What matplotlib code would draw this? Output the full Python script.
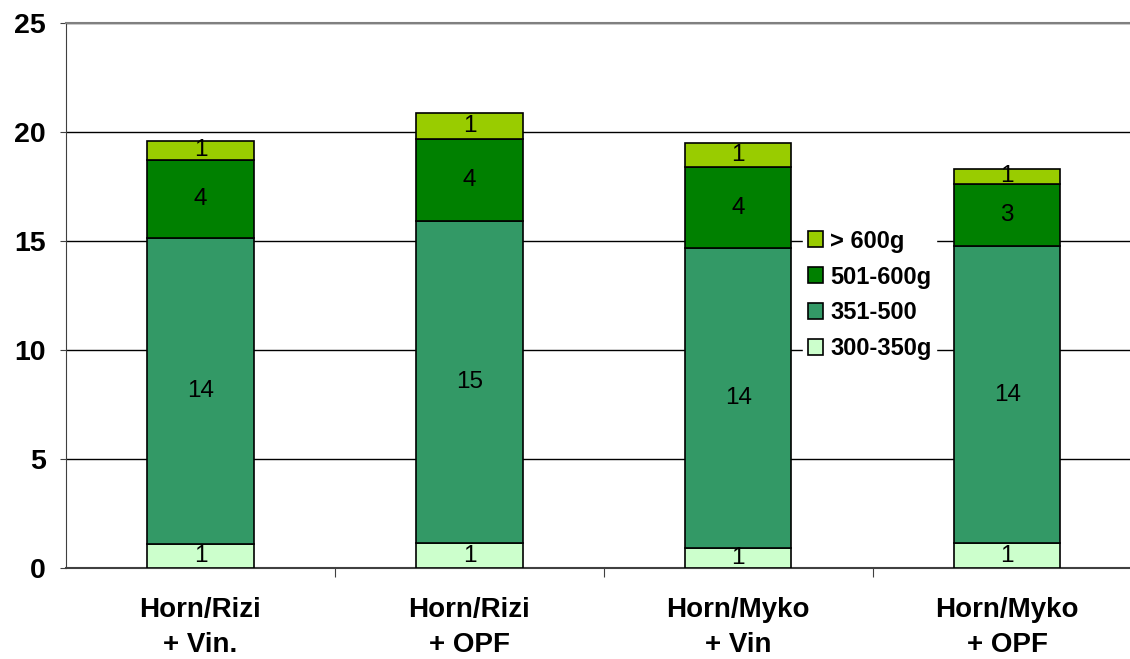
import matplotlib
matplotlib.use("Agg")
import matplotlib.pyplot as plt
import numpy as np

plt.rcParams['font.family'] = ['Liberation Sans', 'DejaVu Sans']

categories = ['Horn/Rizi\n+ Vin.', 'Horn/Rizi\n+ OPF', 'Horn/Myko\n+ Vin', 'Horn/Myko\n+ OPF']
series_names = ['300-350g', '351-500', '501-600g', '> 600g']
s_300_350 = [1.10, 1.17, 0.94, 1.15]
s_351_500 = [14.05, 14.76, 13.75, 13.63]
s_501_600 = [3.58, 3.77, 3.72, 2.86]
s_600 = [0.88, 1.17, 1.09, 0.69]
colors = ['#CCFFCC', '#339966', '#008000', '#99CC00']

fig = plt.figure(figsize=(11.3, 6.59), dpi=100)
ax = fig.add_axes([0.0584, 0.1376, 0.952, 0.827])

x = np.arange(len(categories))
bottom = np.zeros(len(categories))
handles = []
for vals, name, col in zip([s_300_350, s_351_500, s_501_600, s_600], series_names, colors):
    bars = ax.bar(x, vals, 0.395, bottom=bottom, color=col, edgecolor='black',
                  linewidth=1.2, label=name, zorder=3)
    for xi, b, v in zip(x, bottom, vals):
        ax.text(xi, b + v / 2, '%.0f' % v, ha='center', va='center',
                fontsize=17.5, zorder=4)
    handles.append(bars)
    bottom += np.array(vals)

ax.set_xlim(-0.5, 3.5)
ax.set_ylim(0, 25)
ax.set_yticks(np.arange(0, 26, 5))
ax.yaxis.grid(True, color='black', linewidth=1)
ax.set_axisbelow(True)

ax.set_xticks(x)
ax.set_xticklabels(categories, fontsize=20, fontweight='bold', linespacing=1.45)
ax.set_xticks(np.arange(0.5, 3.5, 1), minor=True)
ax.tick_params(axis='x', which='major', length=0, pad=21)
ax.tick_params(axis='x', which='minor', length=6.5, width=0.8, color='#404040', direction='out')
ax.tick_params(axis='y', length=4.5, width=0.8, color='#404040', labelsize=20.5, pad=10)
for lab in ax.get_yticklabels():
    lab.set_fontweight('bold')

ax.spines['right'].set_visible(False)
ax.spines['top'].set_color('#808080')
ax.spines['top'].set_linewidth(1.5)
ax.spines['left'].set_color('#404040')
ax.spines['bottom'].set_color('#404040')
ax.spines['bottom'].set_linewidth(1.5)

leg = ax.legend(handles[::-1], series_names[::-1], loc='center left',
                bbox_to_anchor=(803 / 1130, 1 - 295 / 659), bbox_transform=fig.transFigure,
                frameon=True, fancybox=False, edgecolor='white', framealpha=1,
                prop={'weight': 'bold', 'size': 17}, handlelength=0.65, handleheight=0.65,
                handletextpad=0.3, labelspacing=0.55, borderpad=0.2, borderaxespad=0)

fig.savefig('out.png', dpi=100, facecolor='white')
